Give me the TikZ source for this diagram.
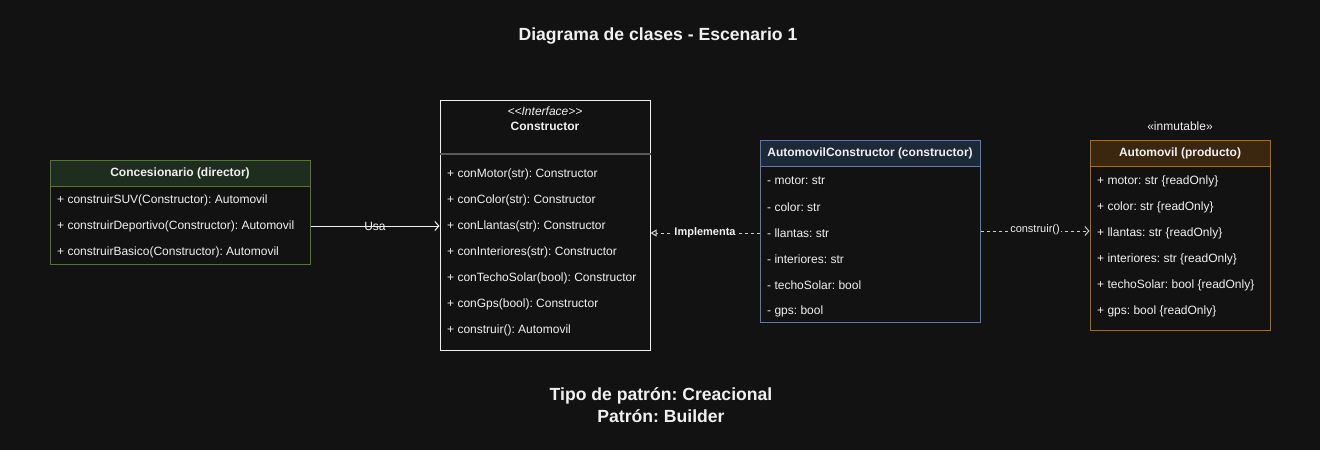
\documentclass[tikz,border=0pt]{standalone}
\usepackage{fontspec}
\setmainfont{Liberation Sans}
\usetikzlibrary{arrows.meta}
\frenchspacing

\definecolor{bg}{HTML}{121212}
\definecolor{txt}{HTML}{F0F0F0}
\definecolor{dirline}{HTML}{4D7A2C}
\definecolor{dirfill}{HTML}{1F2D1E}
\definecolor{bldline}{HTML}{5A7BB0}
\definecolor{bldfill}{HTML}{1D2838}
\definecolor{prdline}{HTML}{B06C00}
\definecolor{prdfill}{HTML}{3B2610}

\begin{document}
\begin{tikzpicture}[x=1pt, y=-1pt,
    box/.style = {draw, fill=bg, line width=1pt, inner sep=0pt},
    head/.style = {draw, line width=1pt, inner sep=0pt, text=txt, font=\fontsize{12}{14}\selectfont\bfseries},
    row/.style = {anchor=west, inner sep=0pt, text=txt, font=\fontsize{12}{14}\selectfont},
    lbl/.style = {inner sep=1pt, text=txt, font=\fontsize{11}{13}\selectfont},
    big/.style = {text=txt, align=center, font=\fontsize{17.6}{22}\selectfont\bfseries},
    usa/.style = {draw=txt, line width=1pt, -{Straight Barb[length=4pt,width=9pt]}},
    impl/.style = {draw=txt!85!black, line width=1pt, dash pattern=on 3pt off 3pt, -{Triangle[open,length=6pt,width=7pt]}},
    build/.style = {draw=txt!85!black, line width=1pt, dash pattern=on 3pt off 3pt, -{Straight Barb[length=4pt,width=9pt]}}]
                \fill[white] (0,0) rectangle (1322,452);
                \fill[bg] (0,0) rectangle (1320,450);

                \node[big] at (658,36) (title) {Diagrama de clases - Escenario 1};
                \node[big] at (661,405) (tipo) {Tipo de patrón: Creacional\\Patrón: Builder};

                \node[box, draw=dirline, minimum width=260pt, minimum height=104pt] at (180,212) (dir) {};
                \node[head, draw=dirline, fill=dirfill, minimum width=260pt, minimum height=26pt] at (180,173) (dirh) {Concesionario (director)};
                \node[row] at (57,200) (dir1) {+ construirSUV(Constructor): Automovil};
                \node[row] at (57,226) (dir2) {+ construirDeportivo(Constructor): Automovil};
                \node[row] at (57,252) (dir3) {+ construirBasico(Constructor): Automovil};

                \node[box, draw=txt, minimum width=210pt, minimum height=250pt] at (545,225) (ctr) {};
                \node[lbl, font=\fontsize{12}{14}\selectfont\itshape] at (545,111) (ctrst) {{<}{<}Interface{>}{>}};
                \node[lbl, font=\fontsize{12}{14}\selectfont\bfseries] at (545,126) (ctrh) {Constructor};
                \draw[draw=gray!70!black, line width=2pt] (ctr.west |- 0,154) -- (ctr.east |- 0,154);
                \node[row] at (447,174) (ctr1) {+ conMotor(str): Constructor};
                \node[row] at (447,200) (ctr2) {+ conColor(str): Constructor};
                \node[row] at (447,226) (ctr3) {+ conLlantas(str): Constructor};
                \node[row] at (447,252) (ctr4) {+ conInteriores(str): Constructor};
                \node[row] at (447,278) (ctr5) {+ conTechoSolar(bool): Constructor};
                \node[row] at (447,304) (ctr6) {+ conGps(bool): Constructor};
                \node[row] at (447,330) (ctr7) {+ construir(): Automovil};

                \node[box, draw=bldline, minimum width=220pt, minimum height=182pt] at (870,231) (ac) {};
                \node[head, draw=bldline, fill=bldfill, minimum width=220pt, minimum height=26pt] at (870,153) (ach) {AutomovilConstructor (constructor)};
                \node[row] at (767,181) (ac1) {- motor: str};
                \node[row] at (767,207) (ac2) {- color: str};
                \node[row] at (767,233) (ac3) {- llantas: str};
                \node[row] at (767,259) (ac4) {- interiores: str};
                \node[row] at (767,285) (ac5) {- techoSolar: bool};
                \node[row] at (767,311) (ac6) {- gps: bool};

                \node[lbl, font=\fontsize{12}{14}\selectfont] at (1180,126) (inm) {«inmutable»};
                \node[box, draw=prdline, minimum width=180pt, minimum height=190pt] at (1180,235) (car) {};
                \node[head, draw=prdline, fill=prdfill, minimum width=180pt, minimum height=26pt] at (1180,153) (carh) {Automovil (producto)};
                \node[row] at (1097,181) (car1) {+ motor: str \{readOnly\}};
                \node[row] at (1097,207) (car2) {+ color: str \{readOnly\}};
                \node[row] at (1097,233) (car3) {+ llantas: str \{readOnly\}};
                \node[row] at (1097,259) (car4) {+ interiores: str \{readOnly\}};
                \node[row] at (1097,285) (car5) {+ techoSolar: bool \{readOnly\}};
                \node[row] at (1097,311) (car6) {+ gps: bool \{readOnly\}};

                \draw[usa] (dir.east |- dir2) -- node[lbl, font=\fontsize{12}{14}\selectfont] {Usa} (ctr.west |- dir2);
                \draw[impl] (ac.west |- ac3) -- node[lbl, fill=bg, font=\fontsize{11}{13}\selectfont\bfseries] {Implementa} (ctr.east |- ac3);
                \draw[build] (ac.east |- 0,231) -- node[lbl, fill=bg, yshift=1pt] {construir()} (car.west |- 0,231);
\end{tikzpicture}
\end{document}
